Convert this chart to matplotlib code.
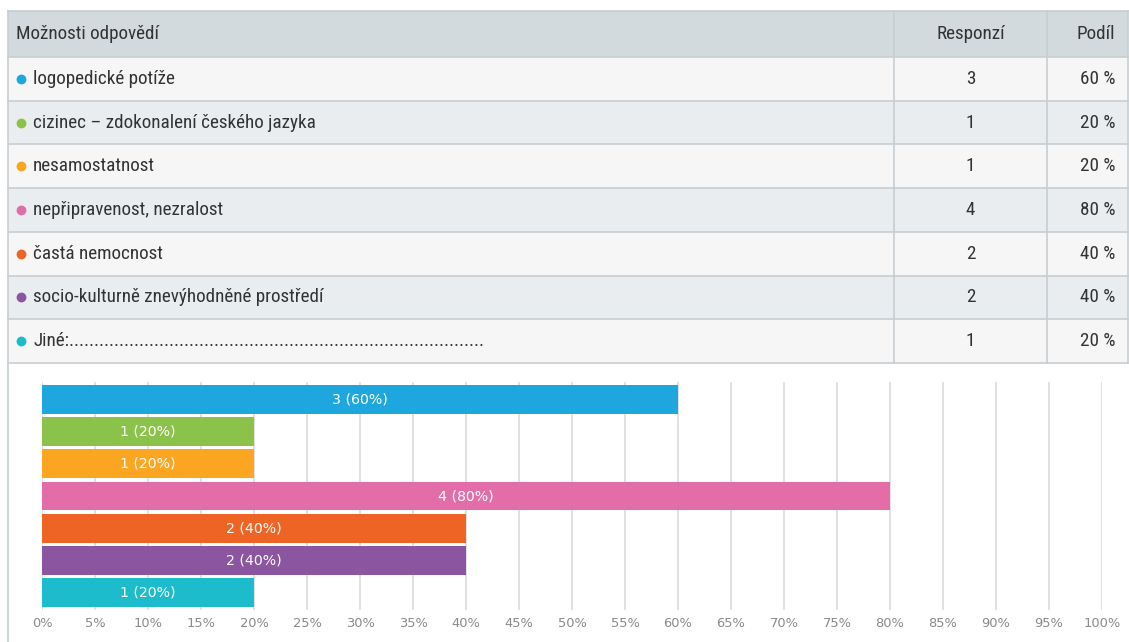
import matplotlib.pyplot as plt
from matplotlib.patches import Rectangle

# Survey answers (Czech), counts and shares
options = [
    "logopedické potíže",
    "cizinec – zdokonalení českého jazyka",
    "nesamostatnost",
    "nepřipravenost, nezralost",
    "častá nemocnost",
    "socio-kulturně znevýhodněné prostředí",
    "Jiné:" + "." * 83,
]
responses = [3, 1, 1, 4, 2, 2, 1]
shares = [60, 20, 20, 80, 40, 40, 20]
colors = ["#1EA7DF", "#8BC34A", "#FBA520", "#E36DA8", "#EE6424", "#8C55A0", "#1CBCCC"]
ticks = list(range(0, 101, 5))

W, H = 1129, 642
fig = plt.figure(figsize=(W / 100, H / 100), dpi=100, facecolor="white")

# --- table drawn in pixel space ---
tab = fig.add_axes([0, 0, 1, 1])
tab.set_xlim(0, W)
tab.set_ylim(H, 0)
tab.axis("off")

table_font = ["Liberation Sans Narrow", "Roboto Condensed", "Roboto", "DejaVu Sans"]
text_col = "#333333"
line_col = "#C6CED3"
fs = 13.8
left, col1, col2, right = 8, 894, 1047, 1128
head_top, head_bot = 11, 57
row_h = (363 - head_bot) / len(options)

tab.add_patch(Rectangle((left, head_top), right - left, head_bot - head_top,
                        facecolor="#D3DADE", edgecolor="none"))
head_y = (head_top + head_bot) / 2
tab.text(16, head_y, "Možnosti odpovědí", va="center", ha="left",
         fontsize=fs, color=text_col, family=table_font)
tab.text((col1 + col2) / 2, head_y, "Responzí", va="center", ha="center",
         fontsize=fs, color=text_col, family=table_font)
tab.text(1115, head_y, "Podíl", va="center", ha="right",
         fontsize=fs, color=text_col, family=table_font)

for i, (opt, r, s, c) in enumerate(zip(options, responses, shares, colors)):
    y0 = head_bot + i * row_h
    yc = y0 + row_h / 2
    bg = "#F6F6F6" if i % 2 == 0 else "#E9EDEF"
    tab.add_patch(Rectangle((left, y0), right - left, row_h, facecolor=bg, edgecolor="none"))
    tab.scatter([21], [yc], s=50, color=c, zorder=3, linewidths=0)
    tab.text(33, yc, opt, va="center", ha="left", fontsize=fs,
             color=text_col, family=table_font)
    tab.text((col1 + col2) / 2, yc, str(r), va="center", ha="center",
             fontsize=fs, color=text_col, family=table_font)
    tab.text(1115, yc, f"{s} %", va="center", ha="right",
             fontsize=fs, color=text_col, family=table_font)

# grid lines of the table
for k in range(len(options) + 1):
    y = head_bot + k * row_h
    tab.plot([left, right], [y, y], color=line_col, lw=1.2, zorder=4)
tab.plot([left, right], [head_top, head_top], color=line_col, lw=1.2, zorder=4)
for x in (col1, col2, right):
    tab.plot([x, x], [head_top, 363], color=line_col, lw=1.2, zorder=4)
tab.plot([left, left], [head_top, H], color=line_col, lw=1.2, zorder=4)

# --- bar chart ---
ax_left, ax_right, ax_top, ax_bot = 42, 1102, 382, 610
ax = fig.add_axes([ax_left / W, (H - ax_bot) / H, (ax_right - ax_left) / W, (ax_bot - ax_top) / H])
ypos = list(range(len(shares)))
ax.barh(ypos, shares, height=0.9, color=colors, zorder=2)
for y, r, s in zip(ypos, responses, shares):
    ax.text(s / 2, y, f"{r} ({s}%)", ha="center", va="center",
            color="white", fontsize=10.2, zorder=3)

ax.set_xlim(0, 100)
ax.set_ylim(6.544, -0.544)
ax.set_xticks(ticks)
ax.set_xticklabels([f"{t}%" for t in ticks])
ax.set_yticks([])
ax.grid(axis="x", color="#D8D8D8", lw=1.1)
ax.set_axisbelow(True)
for sp in ax.spines.values():
    sp.set_visible(False)
ax.tick_params(axis="x", length=0, pad=5, labelsize=9.4, labelcolor="#8A8A8A")
ax.set_facecolor("none")

fig.savefig("out.png", dpi=100, facecolor="white")
